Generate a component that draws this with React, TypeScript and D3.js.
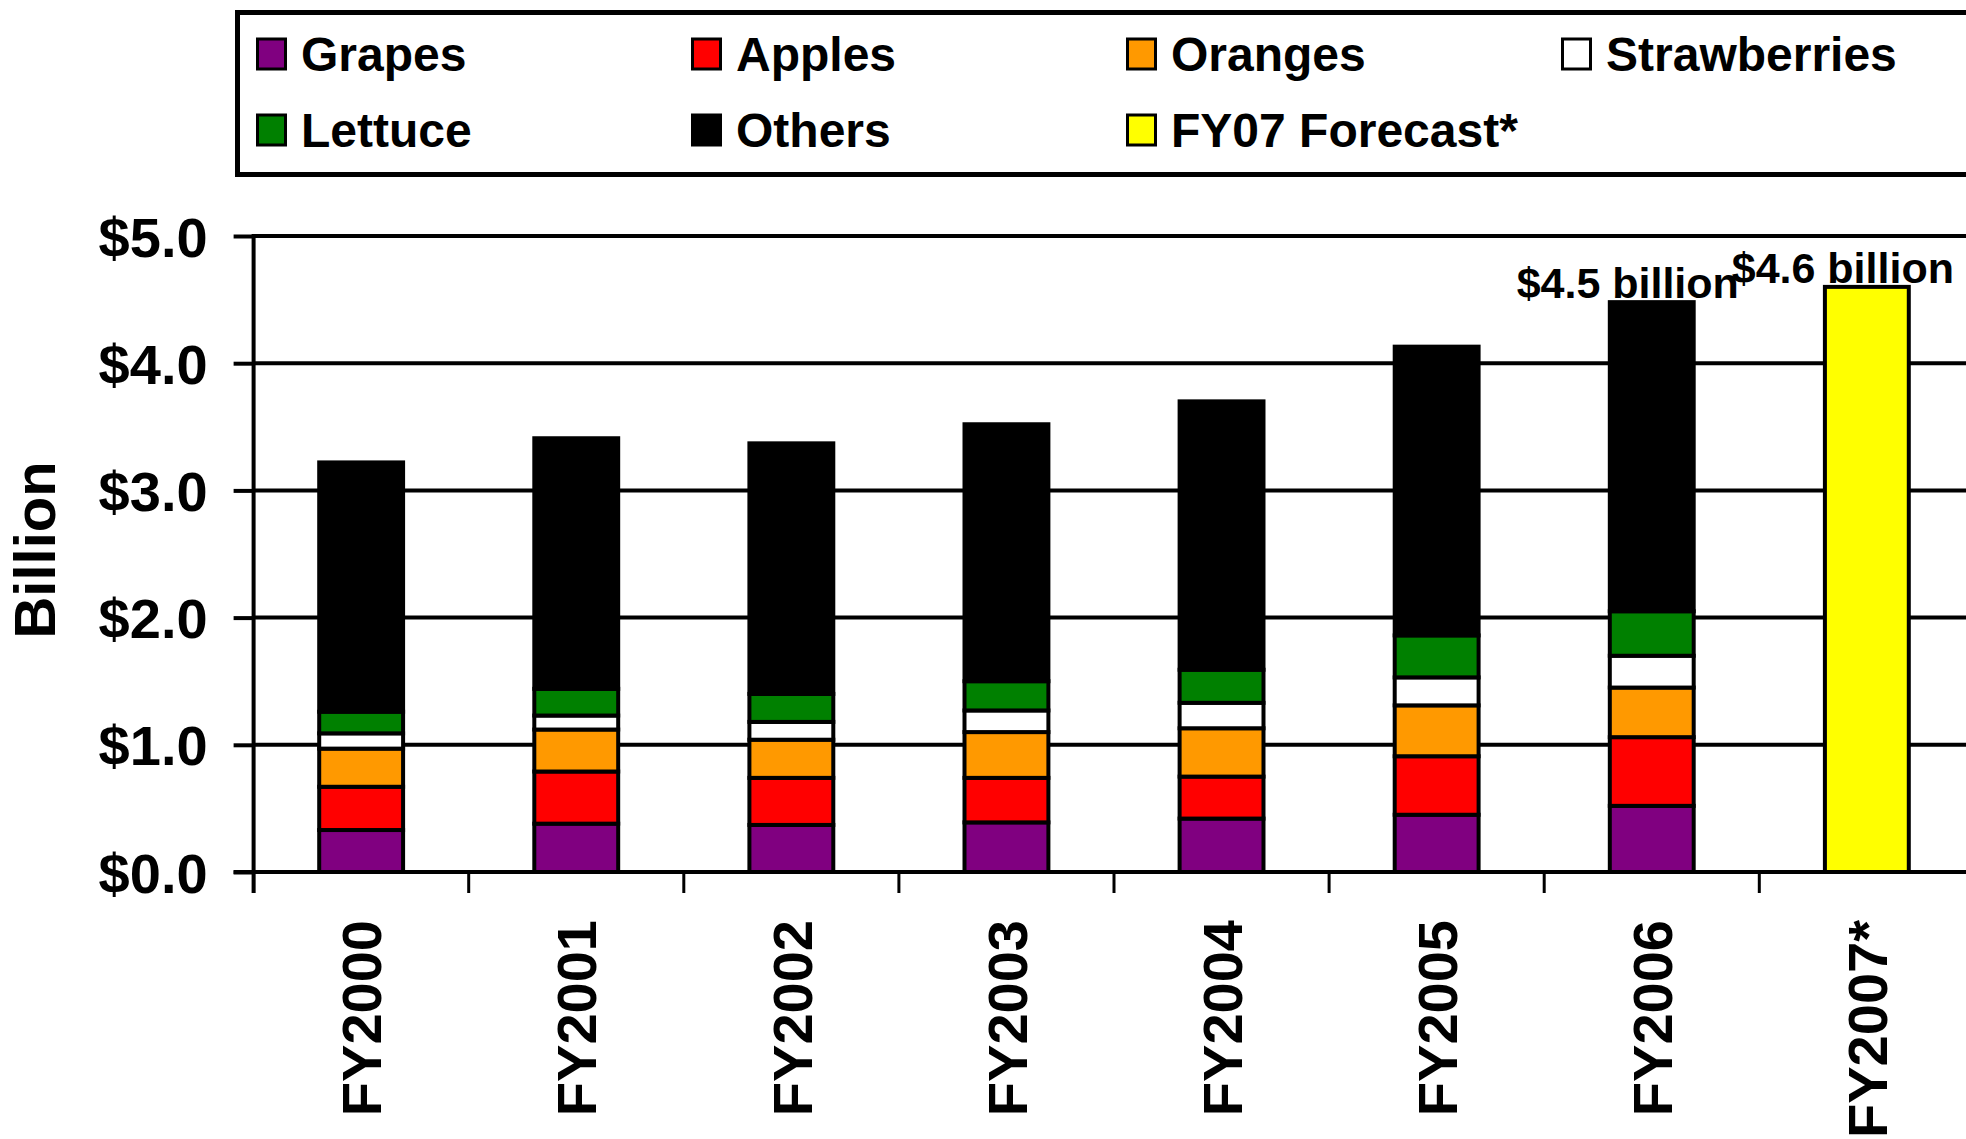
import React, { useEffect, useRef } from 'react';
import * as d3 from 'd3';

const categories = ['FY2000', 'FY2001', 'FY2002', 'FY2003', 'FY2004', 'FY2005', 'FY2006', 'FY2007*'];
const grapes = [0.33, 0.38, 0.37, 0.39, 0.42, 0.45, 0.52, 0];
const apples = [0.34, 0.41, 0.37, 0.35, 0.33, 0.46, 0.54, 0];
const oranges = [0.30, 0.33, 0.30, 0.36, 0.38, 0.40, 0.39, 0];
const strawberries = [0.12, 0.11, 0.14, 0.17, 0.20, 0.22, 0.25, 0];
const lettuce = [0.17, 0.21, 0.22, 0.23, 0.26, 0.33, 0.35, 0];
const others = [1.96, 1.97, 1.97, 2.02, 2.11, 2.27, 2.43, 0];
const forecast = [0, 0, 0, 0, 0, 0, 0, 4.6];

const seriesNames = ['Grapes', 'Apples', 'Oranges', 'Strawberries', 'Lettuce', 'Others', 'FY07 Forecast*'];
const seriesColors = ['#800080', '#FF0000', '#FF9900', '#FFFFFF', '#008000', '#000000', '#FFFF00'];
const yTicks = [0, 1, 2, 3, 4, 5];
const annotations = [
  { category: 'FY2006', text: '$4.5 billion' },
  { category: 'FY2007*', text: '$4.6 billion' },
];

const FONT = '"Liberation Sans", Arial, sans-serif';

const App: React.FC = () => {
  const ref = useRef<SVGSVGElement>(null);

  useEffect(() => {
    if (!ref.current) return;
    const svg = d3.select(ref.current);
    svg.selectAll('*').remove();

    const width = 1966;
    const x0 = 253.6;
    const step = 215.1;

    const series = [grapes, apples, oranges, strawberries, lettuce, others, forecast];
    const rows = categories.map((c, i) => {
      const r: any = { category: c };
      seriesNames.forEach((n, k) => (r[n] = series[k][i]));
      return r;
    });

    const x = d3.scaleBand()
      .domain(categories)
      .range([x0, x0 + step * categories.length])
      .paddingInner(0)
      .paddingOuter(0);

    const y = d3.scaleLinear().domain([0, 5]).range([872, 236]);

    const stack = d3.stack<any>().keys(seriesNames);
    const stacked = stack(rows);

    // Gridlines
    svg.append('g')
      .selectAll('line')
      .data(yTicks.filter(t => t > 0))
      .enter().append('line')
      .attr('x1', x0)
      .attr('x2', width)
      .attr('y1', d => y(d))
      .attr('y2', d => y(d))
      .attr('stroke', '#000')
      .attr('stroke-width', 4);

    // Bars
    const barW = x.bandwidth() * 0.39;
    stacked.forEach((layer, k) => {
      svg.append('g')
        .selectAll('rect')
        .data(layer.filter(d => d[1] - d[0] > 0))
        .enter().append('rect')
        .attr('x', d => (x(d.data.category) || 0) + x.bandwidth() / 2 - barW / 2)
        .attr('y', d => y(d[1]))
        .attr('width', barW)
        .attr('height', d => y(d[0]) - y(d[1]))
        .attr('fill', seriesColors[k])
        .attr('stroke', '#000')
        .attr('stroke-width', 4);
    });

    // Y axis
    const yAxis = svg.append('g')
      .attr('transform', `translate(${x0},0)`)
      .call(d3.axisLeft(y).tickValues(yTicks).tickSize(20).tickPadding(26)
        .tickFormat(d => `$${(d as number).toFixed(1)}`));
    yAxis.select('.domain').remove();
    yAxis.selectAll('.tick line').attr('stroke', '#000').attr('stroke-width', 4);
    yAxis.selectAll('text')
      .style('fill', '#000')
      .style('font-family', FONT)
      .style('font-weight', 'bold')
      .style('font-size', '56px')
      .attr('dy', '0.36em');

    svg.append('line')
      .attr('x1', x0).attr('x2', x0)
      .attr('y1', y(5) - 2).attr('y2', 893)
      .attr('stroke', '#000').attr('stroke-width', 4);

    // X axis
    svg.append('line')
      .attr('x1', x0 - 20).attr('x2', width)
      .attr('y1', y(0)).attr('y2', y(0))
      .attr('stroke', '#000').attr('stroke-width', 4);

    const boundaries = categories.map(c => x(c) || 0).concat([x.range()[1]]);
    svg.append('g')
      .selectAll('line')
      .data(boundaries)
      .enter().append('line')
      .attr('x1', d => d).attr('x2', d => d)
      .attr('y1', y(0)).attr('y2', 893)
      .attr('stroke', '#000').attr('stroke-width', 3);

    svg.append('g')
      .selectAll('text')
      .data(categories)
      .enter().append('text')
      .attr('transform', d => `translate(${(x(d) || 0) + x.bandwidth() / 2},920) rotate(-90)`)
      .attr('text-anchor', 'end')
      .attr('dy', '0.36em')
      .text(d => d)
      .style('font-family', FONT)
      .style('font-weight', 'bold')
      .style('font-size', '56px');

    // Y title
    svg.append('text')
      .attr('transform', 'translate(34,550) rotate(-90)')
      .attr('text-anchor', 'middle')
      .attr('dy', '0.36em')
      .text('Billion')
      .style('font-family', FONT)
      .style('font-weight', 'bold')
      .style('font-size', '58px');

    // Annotations
    const totals = rows.map(r => d3.sum(seriesNames, n => r[n]));
    svg.append('g')
      .selectAll('text')
      .data(annotations)
      .enter().append('text')
      .attr('x', d => (x(d.category) || 0) + x.bandwidth() / 2 - 24)
      .attr('y', d => y(totals[categories.indexOf(d.category)]) - 4)
      .attr('text-anchor', 'middle')
      .text(d => d.text)
      .style('font-family', FONT)
      .style('font-weight', 'bold')
      .style('font-size', '43px');

    // Legend
    const legend = svg.append('g');
    legend.append('rect')
      .attr('x', 237.5).attr('y', 12.5)
      .attr('width', width)
      .attr('height', 162)
      .attr('fill', '#fff')
      .attr('stroke', '#000')
      .attr('stroke-width', 5);

    const items = legend.selectAll('g.item')
      .data(seriesNames)
      .enter().append('g')
      .attr('class', 'item')
      .attr('transform', (_, i) => `translate(${256 + (i % 4) * 435},${i < 4 ? 71 : 147})`);

    items.append('rect')
      .attr('x', 1.5).attr('y', -32)
      .attr('width', 28).attr('height', 30)
      .attr('fill', (_, i) => seriesColors[i])
      .attr('stroke', '#000')
      .attr('stroke-width', 3);

    items.append('text')
      .attr('x', 45)
      .attr('y', 0)
      .text(d => d)
      .style('font-family', FONT)
      .style('font-weight', 'bold')
      .style('font-size', '48px');
  }, []);

  return (
    <svg
      ref={ref}
      width={1966}
      height={1139}
      style={{ position: 'absolute', left: 0, top: 0, background: '#fff' }}
    />
  );
};

export default App;
